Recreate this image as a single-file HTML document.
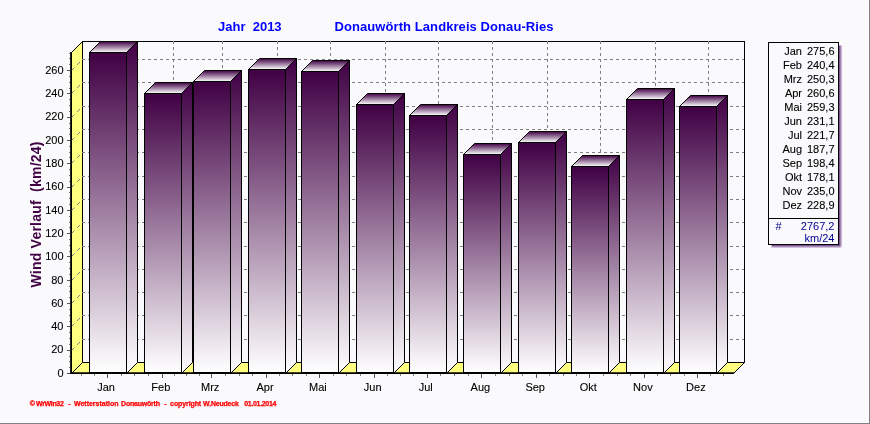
<!DOCTYPE html><html><head><meta charset="utf-8"><title>Wind Verlauf 2013</title>
<style>html,body{margin:0;padding:0;background:#FAF9FC}svg{display:block}text{font-family:"Liberation Sans",sans-serif}</style></head><body>
<svg width="870" height="424" viewBox="0 0 870 424">
<defs>
<linearGradient id="g" x1="0" y1="0" x2="0" y2="1"><stop offset="0" stop-color="#400044"/><stop offset="1" stop-color="#FFFFFF"/></linearGradient>
<linearGradient id="sh" x1="0" y1="0" x2="1" y2="0"><stop offset="0" stop-color="#683880"/><stop offset="1" stop-color="#E6DCEC"/></linearGradient>
<linearGradient id="sv" x1="0" y1="0" x2="0" y2="1"><stop offset="0" stop-color="#683880"/><stop offset="1" stop-color="#E6DCEC"/></linearGradient>
<radialGradient id="sc" cx="0" cy="0" r="1"><stop offset="0" stop-color="#683880"/><stop offset="1" stop-color="#E6DCEC"/></radialGradient>
</defs>
<rect x="0" y="0" width="870" height="424" fill="#FAF9FC"/>
<rect x="869" y="0" width="1" height="424" fill="#808080"/><rect x="0" y="423" width="870" height="1" fill="#808080"/>
<text x="218" y="30.5" font-size="13" font-weight="bold" fill="#0000FF" xml:space="preserve">Jahr  2013</text>
<text x="334.5" y="30.5" font-size="13" font-weight="bold" fill="#0000FF" textLength="219" lengthAdjust="spacing">Donauwörth Landkreis Donau-Ries</text>
<g shape-rendering="crispEdges">
<rect x="82.5" y="41.5" width="662" height="321" fill="#FAF9FC" stroke="#000" stroke-width="1"/>
</g>
<polygon points="71.5,52.5 82.5,41.5 82.5,362.5 71.5,373.5" fill="#FFFF80" stroke="#000" stroke-width="1"/>
<polygon points="71.5,373.5 82.5,362.5 744.5,362.5 733.5,373.5" fill="#FFFF80" stroke="#000" stroke-width="1"/>
<g stroke="#808080" stroke-width="1" stroke-dasharray="3 3" fill="none">
<line x1="82" y1="339.5" x2="744" y2="339.5" shape-rendering="crispEdges"/>
<line x1="71.5" y1="350.5" x2="82.5" y2="339.5" stroke-dasharray="4 4"/>
<line x1="82" y1="315.5" x2="744" y2="315.5" shape-rendering="crispEdges"/>
<line x1="71.5" y1="326.5" x2="82.5" y2="315.5" stroke-dasharray="4 4"/>
<line x1="82" y1="292.5" x2="744" y2="292.5" shape-rendering="crispEdges"/>
<line x1="71.5" y1="303.5" x2="82.5" y2="292.5" stroke-dasharray="4 4"/>
<line x1="82" y1="269.5" x2="744" y2="269.5" shape-rendering="crispEdges"/>
<line x1="71.5" y1="280.5" x2="82.5" y2="269.5" stroke-dasharray="4 4"/>
<line x1="82" y1="246.5" x2="744" y2="246.5" shape-rendering="crispEdges"/>
<line x1="71.5" y1="256.5" x2="82.5" y2="245.5" stroke-dasharray="4 4"/>
<line x1="82" y1="222.5" x2="744" y2="222.5" shape-rendering="crispEdges"/>
<line x1="71.5" y1="233.5" x2="82.5" y2="222.5" stroke-dasharray="4 4"/>
<line x1="82" y1="199.5" x2="744" y2="199.5" shape-rendering="crispEdges"/>
<line x1="71.5" y1="210.5" x2="82.5" y2="199.5" stroke-dasharray="4 4"/>
<line x1="82" y1="176.5" x2="744" y2="176.5" shape-rendering="crispEdges"/>
<line x1="71.5" y1="187.5" x2="82.5" y2="176.5" stroke-dasharray="4 4"/>
<line x1="82" y1="152.5" x2="744" y2="152.5" shape-rendering="crispEdges"/>
<line x1="71.5" y1="163.5" x2="82.5" y2="152.5" stroke-dasharray="4 4"/>
<line x1="82" y1="129.5" x2="744" y2="129.5" shape-rendering="crispEdges"/>
<line x1="71.5" y1="140.5" x2="82.5" y2="129.5" stroke-dasharray="4 4"/>
<line x1="82" y1="106.5" x2="744" y2="106.5" shape-rendering="crispEdges"/>
<line x1="71.5" y1="117.5" x2="82.5" y2="106.5" stroke-dasharray="4 4"/>
<line x1="82" y1="82.5" x2="744" y2="82.5" shape-rendering="crispEdges"/>
<line x1="71.5" y1="93.5" x2="82.5" y2="82.5" stroke-dasharray="4 4"/>
<line x1="82" y1="59.5" x2="744" y2="59.5" shape-rendering="crispEdges"/>
<line x1="71.5" y1="70.5" x2="82.5" y2="59.5" stroke-dasharray="4 4"/>
<line x1="118.5" y1="41" x2="118.5" y2="362" shape-rendering="crispEdges"/>
<line x1="173.5" y1="41" x2="173.5" y2="362" shape-rendering="crispEdges"/>
<line x1="222.5" y1="41" x2="222.5" y2="362" shape-rendering="crispEdges"/>
<line x1="277.5" y1="41" x2="277.5" y2="362" shape-rendering="crispEdges"/>
<line x1="330.5" y1="41" x2="330.5" y2="362" shape-rendering="crispEdges"/>
<line x1="385.5" y1="41" x2="385.5" y2="362" shape-rendering="crispEdges"/>
<line x1="438.5" y1="41" x2="438.5" y2="362" shape-rendering="crispEdges"/>
<line x1="492.5" y1="41" x2="492.5" y2="362" shape-rendering="crispEdges"/>
<line x1="547.5" y1="41" x2="547.5" y2="362" shape-rendering="crispEdges"/>
<line x1="600.5" y1="41" x2="600.5" y2="362" shape-rendering="crispEdges"/>
<line x1="655.5" y1="41" x2="655.5" y2="362" shape-rendering="crispEdges"/>
<line x1="708.5" y1="41" x2="708.5" y2="362" shape-rendering="crispEdges"/>
</g>
<polygon points="126.5,52.5 137.5,41.5 137.5,362.5 126.5,373.5" fill="url(#g)" stroke="#000" stroke-width="1"/>
<polygon points="89.5,52.5 100.5,41.5 137.5,41.5 126.5,52.5" fill="url(#g)" stroke="#000" stroke-width="1"/>
<rect x="89.5" y="52.5" width="37" height="320.0" fill="url(#g)" stroke="#000" stroke-width="1" shape-rendering="crispEdges"/>
<polygon points="181.5,93.5 192.5,82.5 192.5,362.5 181.5,373.5" fill="url(#g)" stroke="#000" stroke-width="1"/>
<polygon points="144.5,93.5 155.5,82.5 192.5,82.5 181.5,93.5" fill="url(#g)" stroke="#000" stroke-width="1"/>
<rect x="144.5" y="93.5" width="37" height="279.0" fill="url(#g)" stroke="#000" stroke-width="1" shape-rendering="crispEdges"/>
<polygon points="230.5,81.5 241.5,70.5 241.5,362.5 230.5,373.5" fill="url(#g)" stroke="#000" stroke-width="1"/>
<polygon points="193.5,81.5 204.5,70.5 241.5,70.5 230.5,81.5" fill="url(#g)" stroke="#000" stroke-width="1"/>
<rect x="193.5" y="81.5" width="37" height="291.0" fill="url(#g)" stroke="#000" stroke-width="1" shape-rendering="crispEdges"/>
<polygon points="285.5,69.5 296.5,58.5 296.5,362.5 285.5,373.5" fill="url(#g)" stroke="#000" stroke-width="1"/>
<polygon points="248.5,69.5 259.5,58.5 296.5,58.5 285.5,69.5" fill="url(#g)" stroke="#000" stroke-width="1"/>
<rect x="248.5" y="69.5" width="37" height="303.0" fill="url(#g)" stroke="#000" stroke-width="1" shape-rendering="crispEdges"/>
<polygon points="338.5,71.5 349.5,60.5 349.5,362.5 338.5,373.5" fill="url(#g)" stroke="#000" stroke-width="1"/>
<polygon points="301.5,71.5 312.5,60.5 349.5,60.5 338.5,71.5" fill="url(#g)" stroke="#000" stroke-width="1"/>
<rect x="301.5" y="71.5" width="37" height="301.0" fill="url(#g)" stroke="#000" stroke-width="1" shape-rendering="crispEdges"/>
<polygon points="393.5,104.5 404.5,93.5 404.5,362.5 393.5,373.5" fill="url(#g)" stroke="#000" stroke-width="1"/>
<polygon points="356.5,104.5 367.5,93.5 404.5,93.5 393.5,104.5" fill="url(#g)" stroke="#000" stroke-width="1"/>
<rect x="356.5" y="104.5" width="37" height="268.0" fill="url(#g)" stroke="#000" stroke-width="1" shape-rendering="crispEdges"/>
<polygon points="446.5,115.5 457.5,104.5 457.5,362.5 446.5,373.5" fill="url(#g)" stroke="#000" stroke-width="1"/>
<polygon points="409.5,115.5 420.5,104.5 457.5,104.5 446.5,115.5" fill="url(#g)" stroke="#000" stroke-width="1"/>
<rect x="409.5" y="115.5" width="37" height="257.0" fill="url(#g)" stroke="#000" stroke-width="1" shape-rendering="crispEdges"/>
<polygon points="500.5,154.5 511.5,143.5 511.5,362.5 500.5,373.5" fill="url(#g)" stroke="#000" stroke-width="1"/>
<polygon points="463.5,154.5 474.5,143.5 511.5,143.5 500.5,154.5" fill="url(#g)" stroke="#000" stroke-width="1"/>
<rect x="463.5" y="154.5" width="37" height="218.0" fill="url(#g)" stroke="#000" stroke-width="1" shape-rendering="crispEdges"/>
<polygon points="555.5,142.5 566.5,131.5 566.5,362.5 555.5,373.5" fill="url(#g)" stroke="#000" stroke-width="1"/>
<polygon points="518.5,142.5 529.5,131.5 566.5,131.5 555.5,142.5" fill="url(#g)" stroke="#000" stroke-width="1"/>
<rect x="518.5" y="142.5" width="37" height="230.0" fill="url(#g)" stroke="#000" stroke-width="1" shape-rendering="crispEdges"/>
<polygon points="608.5,166.5 619.5,155.5 619.5,362.5 608.5,373.5" fill="url(#g)" stroke="#000" stroke-width="1"/>
<polygon points="571.5,166.5 582.5,155.5 619.5,155.5 608.5,166.5" fill="url(#g)" stroke="#000" stroke-width="1"/>
<rect x="571.5" y="166.5" width="37" height="206.0" fill="url(#g)" stroke="#000" stroke-width="1" shape-rendering="crispEdges"/>
<polygon points="663.5,99.5 674.5,88.5 674.5,362.5 663.5,373.5" fill="url(#g)" stroke="#000" stroke-width="1"/>
<polygon points="626.5,99.5 637.5,88.5 674.5,88.5 663.5,99.5" fill="url(#g)" stroke="#000" stroke-width="1"/>
<rect x="626.5" y="99.5" width="37" height="273.0" fill="url(#g)" stroke="#000" stroke-width="1" shape-rendering="crispEdges"/>
<polygon points="716.5,106.5 727.5,95.5 727.5,362.5 716.5,373.5" fill="url(#g)" stroke="#000" stroke-width="1"/>
<polygon points="679.5,106.5 690.5,95.5 727.5,95.5 716.5,106.5" fill="url(#g)" stroke="#000" stroke-width="1"/>
<rect x="679.5" y="106.5" width="37" height="266.0" fill="url(#g)" stroke="#000" stroke-width="1" shape-rendering="crispEdges"/>
<g stroke="#000">
<line x1="70.95" y1="52" x2="70.95" y2="373.7" stroke-width="1.6"/>
<line x1="70.1" y1="372.95" x2="734" y2="372.95" stroke-width="1.45"/>
</g>
<g shape-rendering="crispEdges" stroke="#555555" stroke-width="1">
<line x1="67" y1="373.5" x2="70" y2="373.5"/>
<line x1="68.5" y1="367.5" x2="70" y2="367.5" stroke="#808080"/>
<line x1="68.5" y1="361.5" x2="70" y2="361.5" stroke="#808080"/>
<line x1="68.5" y1="356.5" x2="70" y2="356.5" stroke="#808080"/>
<line x1="67" y1="350.5" x2="70" y2="350.5"/>
<line x1="68.5" y1="344.5" x2="70" y2="344.5" stroke="#808080"/>
<line x1="68.5" y1="338.5" x2="70" y2="338.5" stroke="#808080"/>
<line x1="68.5" y1="332.5" x2="70" y2="332.5" stroke="#808080"/>
<line x1="67" y1="326.5" x2="70" y2="326.5"/>
<line x1="68.5" y1="321.5" x2="70" y2="321.5" stroke="#808080"/>
<line x1="68.5" y1="315.5" x2="70" y2="315.5" stroke="#808080"/>
<line x1="68.5" y1="309.5" x2="70" y2="309.5" stroke="#808080"/>
<line x1="67" y1="303.5" x2="70" y2="303.5"/>
<line x1="68.5" y1="297.5" x2="70" y2="297.5" stroke="#808080"/>
<line x1="68.5" y1="291.5" x2="70" y2="291.5" stroke="#808080"/>
<line x1="68.5" y1="286.5" x2="70" y2="286.5" stroke="#808080"/>
<line x1="67" y1="280.5" x2="70" y2="280.5"/>
<line x1="68.5" y1="274.5" x2="70" y2="274.5" stroke="#808080"/>
<line x1="68.5" y1="268.5" x2="70" y2="268.5" stroke="#808080"/>
<line x1="68.5" y1="262.5" x2="70" y2="262.5" stroke="#808080"/>
<line x1="67" y1="256.5" x2="70" y2="256.5"/>
<line x1="68.5" y1="251.5" x2="70" y2="251.5" stroke="#808080"/>
<line x1="68.5" y1="245.5" x2="70" y2="245.5" stroke="#808080"/>
<line x1="68.5" y1="239.5" x2="70" y2="239.5" stroke="#808080"/>
<line x1="67" y1="233.5" x2="70" y2="233.5"/>
<line x1="68.5" y1="227.5" x2="70" y2="227.5" stroke="#808080"/>
<line x1="68.5" y1="222.5" x2="70" y2="222.5" stroke="#808080"/>
<line x1="68.5" y1="216.5" x2="70" y2="216.5" stroke="#808080"/>
<line x1="67" y1="210.5" x2="70" y2="210.5"/>
<line x1="68.5" y1="204.5" x2="70" y2="204.5" stroke="#808080"/>
<line x1="68.5" y1="198.5" x2="70" y2="198.5" stroke="#808080"/>
<line x1="68.5" y1="192.5" x2="70" y2="192.5" stroke="#808080"/>
<line x1="67" y1="187.5" x2="70" y2="187.5"/>
<line x1="68.5" y1="181.5" x2="70" y2="181.5" stroke="#808080"/>
<line x1="68.5" y1="175.5" x2="70" y2="175.5" stroke="#808080"/>
<line x1="68.5" y1="169.5" x2="70" y2="169.5" stroke="#808080"/>
<line x1="67" y1="163.5" x2="70" y2="163.5"/>
<line x1="68.5" y1="157.5" x2="70" y2="157.5" stroke="#808080"/>
<line x1="68.5" y1="152.5" x2="70" y2="152.5" stroke="#808080"/>
<line x1="68.5" y1="146.5" x2="70" y2="146.5" stroke="#808080"/>
<line x1="67" y1="140.5" x2="70" y2="140.5"/>
<line x1="68.5" y1="134.5" x2="70" y2="134.5" stroke="#808080"/>
<line x1="68.5" y1="128.5" x2="70" y2="128.5" stroke="#808080"/>
<line x1="68.5" y1="123.5" x2="70" y2="123.5" stroke="#808080"/>
<line x1="67" y1="117.5" x2="70" y2="117.5"/>
<line x1="68.5" y1="111.5" x2="70" y2="111.5" stroke="#808080"/>
<line x1="68.5" y1="105.5" x2="70" y2="105.5" stroke="#808080"/>
<line x1="68.5" y1="99.5" x2="70" y2="99.5" stroke="#808080"/>
<line x1="67" y1="93.5" x2="70" y2="93.5"/>
<line x1="68.5" y1="88.5" x2="70" y2="88.5" stroke="#808080"/>
<line x1="68.5" y1="82.5" x2="70" y2="82.5" stroke="#808080"/>
<line x1="68.5" y1="76.5" x2="70" y2="76.5" stroke="#808080"/>
<line x1="67" y1="70.5" x2="70" y2="70.5"/>
<line x1="68.5" y1="64.5" x2="70" y2="64.5" stroke="#808080"/>
<line x1="68.5" y1="58.5" x2="70" y2="58.5" stroke="#808080"/>
<line x1="68.5" y1="53.5" x2="70" y2="53.5" stroke="#808080"/>
<line x1="107.5" y1="374" x2="107.5" y2="378"/>
<line x1="121.5" y1="374" x2="121.5" y2="376" stroke="#808080"/>
<line x1="134.5" y1="374" x2="134.5" y2="376" stroke="#808080"/>
<line x1="148.5" y1="374" x2="148.5" y2="376" stroke="#808080"/>
<line x1="94.5" y1="374" x2="94.5" y2="376" stroke="#808080"/>
<line x1="81.5" y1="374" x2="81.5" y2="376" stroke="#808080"/>
<line x1="162.5" y1="374" x2="162.5" y2="378"/>
<line x1="174.5" y1="374" x2="174.5" y2="376" stroke="#808080"/>
<line x1="186.5" y1="374" x2="186.5" y2="376" stroke="#808080"/>
<line x1="199.5" y1="374" x2="199.5" y2="376" stroke="#808080"/>
<line x1="211.5" y1="374" x2="211.5" y2="378"/>
<line x1="225.5" y1="374" x2="225.5" y2="376" stroke="#808080"/>
<line x1="239.5" y1="374" x2="239.5" y2="376" stroke="#808080"/>
<line x1="252.5" y1="374" x2="252.5" y2="376" stroke="#808080"/>
<line x1="266.5" y1="374" x2="266.5" y2="378"/>
<line x1="279.5" y1="374" x2="279.5" y2="376" stroke="#808080"/>
<line x1="292.5" y1="374" x2="292.5" y2="376" stroke="#808080"/>
<line x1="306.5" y1="374" x2="306.5" y2="376" stroke="#808080"/>
<line x1="319.5" y1="374" x2="319.5" y2="378"/>
<line x1="333.5" y1="374" x2="333.5" y2="376" stroke="#808080"/>
<line x1="346.5" y1="374" x2="346.5" y2="376" stroke="#808080"/>
<line x1="360.5" y1="374" x2="360.5" y2="376" stroke="#808080"/>
<line x1="374.5" y1="374" x2="374.5" y2="378"/>
<line x1="387.5" y1="374" x2="387.5" y2="376" stroke="#808080"/>
<line x1="400.5" y1="374" x2="400.5" y2="376" stroke="#808080"/>
<line x1="413.5" y1="374" x2="413.5" y2="376" stroke="#808080"/>
<line x1="427.5" y1="374" x2="427.5" y2="378"/>
<line x1="440.5" y1="374" x2="440.5" y2="376" stroke="#808080"/>
<line x1="454.5" y1="374" x2="454.5" y2="376" stroke="#808080"/>
<line x1="468.5" y1="374" x2="468.5" y2="376" stroke="#808080"/>
<line x1="481.5" y1="374" x2="481.5" y2="378"/>
<line x1="495.5" y1="374" x2="495.5" y2="376" stroke="#808080"/>
<line x1="509.5" y1="374" x2="509.5" y2="376" stroke="#808080"/>
<line x1="522.5" y1="374" x2="522.5" y2="376" stroke="#808080"/>
<line x1="536.5" y1="374" x2="536.5" y2="378"/>
<line x1="549.5" y1="374" x2="549.5" y2="376" stroke="#808080"/>
<line x1="563.5" y1="374" x2="563.5" y2="376" stroke="#808080"/>
<line x1="576.5" y1="374" x2="576.5" y2="376" stroke="#808080"/>
<line x1="589.5" y1="374" x2="589.5" y2="378"/>
<line x1="603.5" y1="374" x2="603.5" y2="376" stroke="#808080"/>
<line x1="617.5" y1="374" x2="617.5" y2="376" stroke="#808080"/>
<line x1="630.5" y1="374" x2="630.5" y2="376" stroke="#808080"/>
<line x1="644.5" y1="374" x2="644.5" y2="378"/>
<line x1="657.5" y1="374" x2="657.5" y2="376" stroke="#808080"/>
<line x1="670.5" y1="374" x2="670.5" y2="376" stroke="#808080"/>
<line x1="684.5" y1="374" x2="684.5" y2="376" stroke="#808080"/>
<line x1="697.5" y1="374" x2="697.5" y2="378"/>
<line x1="710.5" y1="374" x2="710.5" y2="376" stroke="#808080"/>
<line x1="723.5" y1="374" x2="723.5" y2="376" stroke="#808080"/>
</g>
<g font-size="11" fill="#000" stroke="#000" stroke-width="0.1">
<text x="63.5" y="376.7" text-anchor="end">0</text>
<text x="63.5" y="353.4" text-anchor="end">20</text>
<text x="63.5" y="330.1" text-anchor="end">40</text>
<text x="63.5" y="306.8" text-anchor="end">60</text>
<text x="63.5" y="283.5" text-anchor="end">80</text>
<text x="63.5" y="260.2" text-anchor="end">100</text>
<text x="63.5" y="236.9" text-anchor="end">120</text>
<text x="63.5" y="213.6" text-anchor="end">140</text>
<text x="63.5" y="190.3" text-anchor="end">160</text>
<text x="63.5" y="167.0" text-anchor="end">180</text>
<text x="63.5" y="143.7" text-anchor="end">200</text>
<text x="63.5" y="120.4" text-anchor="end">220</text>
<text x="63.5" y="97.1" text-anchor="end">240</text>
<text x="63.5" y="73.8" text-anchor="end">260</text>
<text x="106.0" y="391" text-anchor="middle">Jan</text>
<text x="160.8" y="391" text-anchor="middle">Feb</text>
<text x="210.2" y="391" text-anchor="middle">Mrz</text>
<text x="265.0" y="391" text-anchor="middle">Apr</text>
<text x="317.9" y="391" text-anchor="middle">Mai</text>
<text x="372.7" y="391" text-anchor="middle">Jun</text>
<text x="425.7" y="391" text-anchor="middle">Jul</text>
<text x="480.4" y="391" text-anchor="middle">Aug</text>
<text x="535.2" y="391" text-anchor="middle">Sep</text>
<text x="588.2" y="391" text-anchor="middle">Okt</text>
<text x="642.9" y="391" text-anchor="middle">Nov</text>
<text x="695.9" y="391" text-anchor="middle">Dez</text>
</g>
<text transform="translate(40.5,287.5) rotate(-90)" font-size="14" font-weight="bold" fill="#400044" textLength="146" lengthAdjust="spacing" xml:space="preserve">Wind Verlauf  (km/24)</text>
<rect x="839" y="45.5" width="3.2" height="199.5" fill="url(#sh)"/><rect x="771.5" y="245" width="67.5" height="3" fill="url(#sv)"/><rect x="839" y="245" width="3.2" height="3" fill="url(#sc)"/>
<g shape-rendering="crispEdges"><rect x="768.5" y="42.5" width="70" height="202" fill="#FAF9FC" stroke="#000"/><line x1="768" y1="218.5" x2="839" y2="218.5" stroke="#000"/></g>
<g font-size="11" fill="#000" stroke="#000" stroke-width="0.1">
<text x="802" y="54.5" text-anchor="end">Jan</text>
<text x="834.5" y="54.5" text-anchor="end">275,6</text>
<text x="802" y="68.5" text-anchor="end">Feb</text>
<text x="834.5" y="68.5" text-anchor="end">240,4</text>
<text x="802" y="82.5" text-anchor="end">Mrz</text>
<text x="834.5" y="82.5" text-anchor="end">250,3</text>
<text x="802" y="96.5" text-anchor="end">Apr</text>
<text x="834.5" y="96.5" text-anchor="end">260,6</text>
<text x="802" y="110.5" text-anchor="end">Mai</text>
<text x="834.5" y="110.5" text-anchor="end">259,3</text>
<text x="802" y="124.5" text-anchor="end">Jun</text>
<text x="834.5" y="124.5" text-anchor="end">231,1</text>
<text x="802" y="138.5" text-anchor="end">Jul</text>
<text x="834.5" y="138.5" text-anchor="end">221,7</text>
<text x="802" y="152.5" text-anchor="end">Aug</text>
<text x="834.5" y="152.5" text-anchor="end">187,7</text>
<text x="802" y="166.5" text-anchor="end">Sep</text>
<text x="834.5" y="166.5" text-anchor="end">198,4</text>
<text x="802" y="180.5" text-anchor="end">Okt</text>
<text x="834.5" y="180.5" text-anchor="end">178,1</text>
<text x="802" y="194.5" text-anchor="end">Nov</text>
<text x="834.5" y="194.5" text-anchor="end">235,0</text>
<text x="802" y="208.5" text-anchor="end">Dez</text>
<text x="834.5" y="208.5" text-anchor="end">228,9</text>
</g>
<g font-size="11" fill="#000090"><text x="775.5" y="230">#</text><text x="834.5" y="230" text-anchor="end">2767,2</text><text x="834.5" y="241.5" text-anchor="end">km/24</text></g>
<g font-size="7" font-weight="bold" fill="#FF0000" stroke="#FF0000" stroke-width="0.25">
<text x="29.7" y="406">©</text>
<text x="36.1" y="406" textLength="27.7" lengthAdjust="spacing">WrWin32</text>
<text x="68.3" y="406">-</text>
<text x="73.9" y="406" textLength="44.7" lengthAdjust="spacing">Wetterstation</text>
<text x="121.1" y="406" textLength="38.9" lengthAdjust="spacing">Donauwörth</text>
<text x="164.2" y="406">-</text>
<text x="170.1" y="406" textLength="31.1" lengthAdjust="spacing">copyright</text>
<text x="203.1" y="406" textLength="35.8" lengthAdjust="spacing">W.Neudeck</text>
<text x="244.2" y="406" textLength="32.2" lengthAdjust="spacing">01.01.2014</text>
</g>
</svg></body></html>
